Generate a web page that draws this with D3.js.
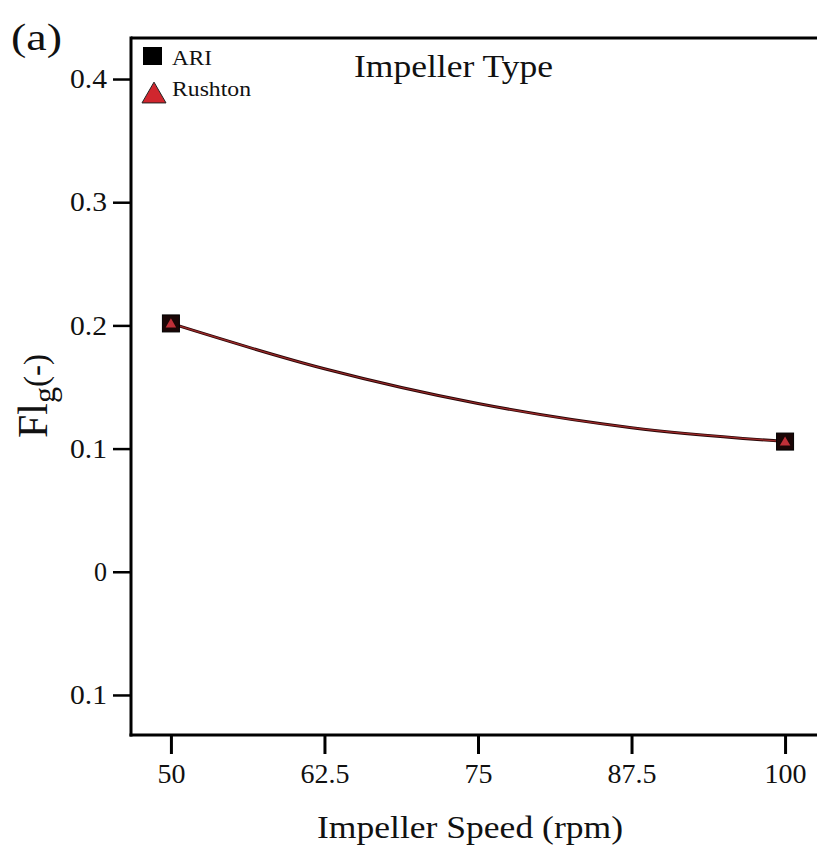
<!DOCTYPE html>
<html>
<head>
<meta charset="utf-8">
<script src="https://cdn.jsdelivr.net/npm/d3@7"></script>
<style>
  html, body { margin: 0; padding: 0; background: #fff; }
  svg { display: block; font-family: "Liberation Serif", "Times New Roman", serif; }
</style>
</head>
<body>
<svg id="chart" width="817" height="847"></svg>
<script>
// ---- data ----
const speeds = [50, 100];                       // impeller speed (rpm)
const ariValues = [0.2016, 0.1057];             // ARI impeller
const rushtonValues = [0.2016, 0.1057];         // Rushton impeller
const fitSpeeds = [50, 62.5, 75, 87.5, 100];    // fitted curve samples
const fitValues = [0.2016, 0.1648, 0.1366, 0.1170, 0.1057];
const xTicks = [50, 62.5, 75, 87.5, 100];
const xTickLabels = ["50", "62.5", "75", "87.5", "100"];
const yTicks = [0.4, 0.3, 0.2, 0.1, 0, -0.1];
const yTickLabels = ["0.4", "0.3", "0.2", "0.1", "0", "0.1"];
const legendNames = ["ARI", "Rushton"];

(function () {
// ---- layout ----
const svg = d3.select("#chart");
const pLeft = 131, pTop = 38, pRight = 817, pBottom = 735;
const serif = "Liberation Serif, Times New Roman, serif";

const x = d3.scaleLinear().domain([46.75, 102.6]).range([pLeft, pRight]);
const y = d3.scaleLinear().domain([-0.1325, 0.4333]).range([pBottom, pTop]);

// frame (top border)
svg.append("line").attr("x1", pLeft).attr("x2", pRight + 10)
  .attr("y1", pTop).attr("y2", pTop)
  .attr("stroke", "#000").attr("stroke-width", 3);

// axes
const xAxis = d3.axisBottom(x).tickValues(xTicks)
  .tickFormat((d, i) => xTickLabels[i]).tickSize(19).tickPadding(9).tickSizeOuter(0);
const gx = svg.append("g").attr("transform", `translate(0,${pBottom})`).call(xAxis);
gx.attr("font-family", serif);
gx.select(".domain").attr("d", `M${pLeft - 1.5},0H${pRight + 10}`).attr("stroke-width", 3);
gx.selectAll(".tick line").attr("stroke-width", 3);
gx.selectAll("text").attr("font-size", 28).attr("fill", "#111");

const yAxis = d3.axisLeft(y).tickValues(yTicks)
  .tickFormat((d, i) => yTickLabels[i]).tickSize(18).tickPadding(6).tickSizeOuter(0);
const gy = svg.append("g").attr("transform", `translate(${pLeft},0)`).call(yAxis);
gy.attr("font-family", serif);
gy.select(".domain").attr("d", `M0,${pTop - 1.5}V${pBottom + 1.5}`).attr("stroke-width", 3);
gy.selectAll(".tick line").attr("stroke-width", 2.5);
gy.selectAll("text").attr("font-size", 27).attr("fill", "#111")
  .attr("textLength", d => (d === 0 ? 13 : 37)).attr("lengthAdjust", "spacingAndGlyphs");

// fitted curve
const fitPts = fitSpeeds.map((s, i) => [s, fitValues[i]]);
const line = d3.line().x(d => x(d[0])).y(d => y(d[1])).curve(d3.curveCatmullRom);
svg.append("path").datum(fitPts).attr("d", line)
  .attr("fill", "none").attr("stroke", "#2a0808").attr("stroke-width", 3);
svg.append("path").datum(fitPts).attr("d", line)
  .attr("fill", "none").attr("stroke", "#a02a2a").attr("stroke-width", 1.2);

// markers: ARI squares
svg.selectAll("rect.ari").data(speeds).enter().append("rect")
  .attr("class", "ari")
  .attr("x", (d) => x(d) - 8.5).attr("y", (d, i) => y(ariValues[i]) - 8.5)
  .attr("width", 17).attr("height", 17)
  .attr("fill", "#1a0606").attr("stroke", "#000").attr("stroke-width", 1);
// Rushton triangles
const tri = d3.symbol().type(d3.symbolTriangle).size(48);
svg.selectAll("path.rush").data(speeds).enter().append("path")
  .attr("class", "rush")
  .attr("d", tri)
  .attr("transform", (d, i) => `translate(${x(d)},${y(rushtonValues[i]) + 1})`)
  .attr("fill", "#c03038");

// legend
svg.append("rect").attr("x", 143).attr("y", 47).attr("width", 19).attr("height", 18)
  .attr("fill", "#000");
svg.append("path")
  .attr("d", d3.symbol().type(d3.symbolTriangle).size(250))
  .attr("transform", "translate(154,96)")
  .attr("fill", "#d0262e").attr("stroke", "#222").attr("stroke-width", 1);
svg.append("text").attr("x", 172).attr("y", 65).text(legendNames[0])
  .attr("font-size", 21).attr("fill", "#111")
  .attr("textLength", 40).attr("lengthAdjust", "spacingAndGlyphs");
svg.append("text").attr("x", 172).attr("y", 96).text(legendNames[1])
  .attr("font-size", 21).attr("fill", "#111")
  .attr("textLength", 79).attr("lengthAdjust", "spacingAndGlyphs");

// title inside plot
svg.append("text").attr("x", 354).attr("y", 77).text("Impeller Type")
  .attr("font-size", 31).attr("fill", "#111")
  .attr("textLength", 199).attr("lengthAdjust", "spacingAndGlyphs");

// panel label
svg.append("text").attr("x", 11).attr("y", 50).text("(a)")
  .attr("font-size", 38).attr("fill", "#111")
  .attr("textLength", 51).attr("lengthAdjust", "spacingAndGlyphs");

// x axis title
svg.append("text").attr("x", 317).attr("y", 838).text("Impeller Speed (rpm)")
  .attr("font-size", 32).attr("fill", "#111")
  .attr("textLength", 306).attr("lengthAdjust", "spacingAndGlyphs");

// y axis title: Fl_g (-)
const yt = svg.append("text")
  .attr("transform", "translate(47,438) rotate(-90)")
  .attr("fill", "#111");
yt.append("tspan").attr("font-size", 42).text("Fl");
yt.append("tspan").attr("font-size", 32).attr("dy", 8).text("g");
yt.append("tspan").attr("font-size", 33).attr("dy", -8).text("(-)");
})();
</script>
</body>
</html>
